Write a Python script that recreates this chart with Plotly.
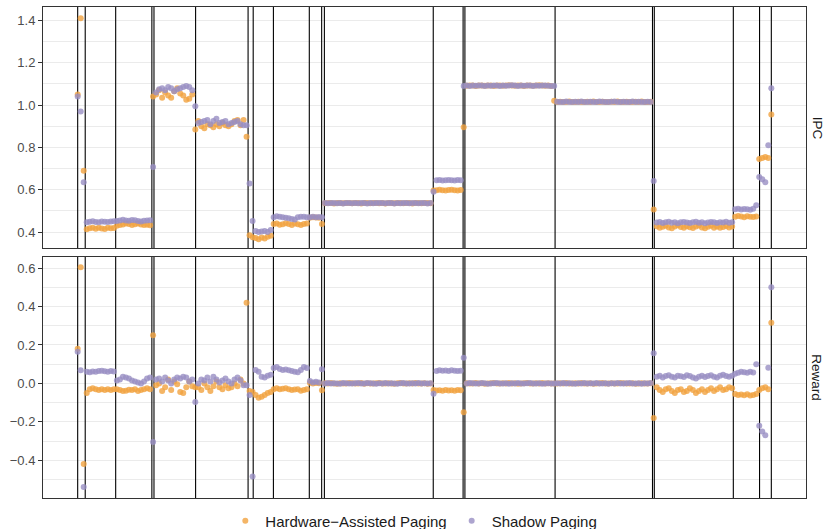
import plotly.graph_objects as go
from plotly.subplots import make_subplots

series_names = ["Hardware\u2212Assisted Paging", "Shadow Paging"]
series_colors = ["#F1A340", "#998EC3"]
facet_labels = ["IPC", "Reward"]

# phase boundaries (time step units)
phase_bounds = [0, 2.5, 12.6, 24.6, 25.3, 39.1, 56.5, 58.2, 64.9, 76.8, 80.9, 81.8,
                117.9, 127.8, 128.4, 158.3, 190.6, 191.2, 217.4, 226.1, 230]

ipc_hw = [
    1.05, 1.41, 0.69,
    0.413, 0.418, 0.42, 0.416, 0.42, 0.417, 0.415, 0.42, 0.418, 0.419,
    0.43, 0.433, 0.436, 0.44, 0.438, 0.434, 0.437, 0.441, 0.436, 0.433, 0.435, 0.432,
    1.04,
    1.05, 1.07, 1.035, 1.06, 1.045, 1.035, 1.065, 1.08, 1.055, 1.045, 1.025, 1.03, 1.05,
    0.885,
    0.925, 0.9, 0.89, 0.91, 0.905, 0.895, 0.91, 0.9, 0.915, 0.905, 0.9, 0.91, 0.925, 0.93, 0.905, 0.93, 0.85,
    0.385, 0.376,
    0.372, 0.366, 0.374, 0.37, 0.378, 0.383,
    0.438, 0.441, 0.435, 0.437, 0.442, 0.438, 0.434, 0.44, 0.437, 0.433, 0.438, 0.44,
    0.468, 0.47, 0.469, 0.468,
    0.438,
    0.536, 0.538, 0.537, 0.535, 0.538, 0.537, 0.536, 0.538, 0.537, 0.536,
    0.538, 0.537, 0.535, 0.537, 0.538, 0.536, 0.537, 0.538, 0.536, 0.537,
    0.535, 0.538, 0.537, 0.536, 0.538, 0.537, 0.536, 0.538, 0.537, 0.535,
    0.537, 0.538, 0.536, 0.537, 0.538, 0.536,
    0.597, 0.598, 0.6, 0.598, 0.597, 0.599, 0.6, 0.598, 0.597, 0.599,
    0.895,
    1.091, 1.093, 1.092, 1.090, 1.093, 1.092, 1.091, 1.093, 1.092, 1.090,
    1.092, 1.093, 1.091, 1.092, 1.094, 1.092, 1.091, 1.093, 1.092, 1.090,
    1.092, 1.093, 1.091, 1.092, 1.094, 1.093, 1.091, 1.092, 1.090,
    1.02,
    1.015, 1.016, 1.014, 1.015, 1.017, 1.015, 1.014, 1.016, 1.015, 1.014,
    1.016, 1.015, 1.017, 1.015, 1.014, 1.016, 1.015, 1.014, 1.016, 1.015,
    1.017, 1.015, 1.014, 1.016, 1.015, 1.014, 1.016, 1.015, 1.017, 1.015,
    1.014, 1.016,
    0.507,
    0.428, 0.42, 0.425, 0.43, 0.422, 0.418, 0.426, 0.432, 0.424, 0.42, 0.428, 0.423, 0.419,
    0.427, 0.431, 0.422, 0.418, 0.425, 0.43, 0.421, 0.426, 0.42, 0.424, 0.429, 0.422, 0.427,
    0.472, 0.476, 0.474, 0.47, 0.475, 0.473, 0.471, 0.474,
    0.745, 0.75, 0.755, 0.75, 0.955,
]

ipc_sp = [
    1.04, 0.97, 0.636,
    0.446, 0.449, 0.451, 0.448, 0.447, 0.45, 0.449, 0.448, 0.45, 0.451,
    0.452, 0.455, 0.458, 0.455, 0.453, 0.457, 0.456, 0.452, 0.45, 0.453, 0.455, 0.456,
    0.707,
    1.06, 1.075, 1.08, 1.07, 1.085, 1.08, 1.065, 1.075, 1.08, 1.085, 1.09, 1.085, 1.07,
    0.995,
    0.915, 0.92, 0.925, 0.93, 0.91, 0.925, 0.935, 0.915, 0.92, 0.925, 0.91, 0.915, 0.92, 0.925, 0.91, 0.905, 0.905,
    0.63, 0.452,
    0.405, 0.4, 0.403, 0.405, 0.4, 0.41,
    0.47, 0.475, 0.472, 0.47, 0.468, 0.465, 0.462, 0.46, 0.47, 0.472, 0.473, 0.47,
    0.47, 0.472, 0.47, 0.471,
    0.47,
    0.537, 0.536, 0.538, 0.537, 0.536, 0.538, 0.535, 0.537, 0.538, 0.536,
    0.537, 0.536, 0.538, 0.537, 0.535, 0.538, 0.536, 0.537, 0.538, 0.537,
    0.536, 0.537, 0.538, 0.535, 0.537, 0.536, 0.538, 0.537, 0.536, 0.538,
    0.537, 0.536, 0.538, 0.537, 0.535, 0.537,
    0.59, 0.645, 0.646, 0.644, 0.645, 0.646, 0.645, 0.644, 0.646, 0.645,
    1.09,
    1.092, 1.090, 1.093, 1.091, 1.092, 1.093, 1.090, 1.092, 1.091, 1.093,
    1.092, 1.090, 1.093, 1.091, 1.092, 1.094, 1.092, 1.090, 1.093, 1.091,
    1.092, 1.093, 1.090, 1.092, 1.091, 1.093, 1.092, 1.091, 1.090,
    1.09,
    1.016, 1.014, 1.015, 1.017, 1.015, 1.014, 1.016, 1.015, 1.017, 1.014,
    1.015, 1.016, 1.014, 1.015, 1.017, 1.016, 1.014, 1.015, 1.016, 1.017,
    1.015, 1.014, 1.016, 1.015, 1.014, 1.017, 1.015, 1.016, 1.014, 1.015,
    1.016, 1.015,
    0.641,
    0.445, 0.448, 0.443, 0.446, 0.449, 0.444, 0.447, 0.442, 0.446, 0.448, 0.445, 0.443, 0.447,
    0.449, 0.444, 0.446, 0.442, 0.445, 0.448, 0.446, 0.443, 0.447, 0.445, 0.449, 0.444, 0.446,
    0.508, 0.51, 0.507, 0.509, 0.508, 0.506, 0.51, 0.527,
    0.66, 0.65, 0.635, 0.81, 1.08,
]

reward_hw = [
    0.18, 0.605, -0.42,
    -0.05, -0.03, -0.025, -0.03, -0.035, -0.03, -0.035, -0.03, -0.035, -0.03,
    -0.03, -0.035, -0.04, -0.038, -0.033, -0.035, -0.03, -0.04, -0.035, -0.03, -0.025, -0.03,
    0.25,
    -0.01, 0.0, -0.04, -0.02, 0.02, -0.035, 0.01, -0.005, -0.045, -0.05, -0.02, 0.01, -0.015,
    -0.02,
    -0.02, -0.035, 0.0, -0.02, -0.04, -0.015, 0.01, -0.02, -0.03, -0.01, -0.025, -0.02, 0.0, -0.015, 0.02, 0.0, 0.42,
    -0.04, -0.045,
    -0.06, -0.075, -0.07, -0.06, -0.05, -0.045,
    -0.03, -0.025, -0.03, -0.028, -0.025, -0.03, -0.035, -0.032, -0.03, -0.038, -0.035, -0.03,
    0.003, 0.0, 0.002, 0.001,
    -0.036,
    0.001, -0.001, 0.002, 0.0, -0.002, 0.001, 0.0, -0.001, 0.002, 0.001,
    -0.001, 0.0, 0.002, -0.002, 0.001, 0.0, -0.001, 0.001, 0.002, 0.0,
    -0.001, 0.001, 0.0, -0.002, 0.001, 0.002, 0.0, -0.001, 0.001, 0.0,
    0.002, -0.001, 0.0, 0.001, -0.002, 0.0,
    -0.035, -0.037, -0.036, -0.038, -0.035, -0.037, -0.036, -0.038, -0.035, -0.036,
    -0.15,
    0.001, 0.0, -0.001, 0.002, 0.0, 0.001, -0.002, 0.0, 0.001, 0.002,
    -0.001, 0.0, 0.001, -0.001, 0.002, 0.0, 0.001, -0.002, 0.0, 0.001,
    0.002, -0.001, 0.0, 0.001, -0.001, 0.002, 0.0, 0.001, 0.0,
    0.0,
    0.0, 0.001, -0.001, 0.002, 0.0, -0.001, 0.001, 0.0, 0.002, -0.001,
    0.0, 0.001, -0.002, 0.0, 0.001, 0.002, -0.001, 0.0, 0.001, -0.001,
    0.0, 0.002, 0.001, -0.001, 0.0, 0.001, -0.002, 0.0, 0.001, 0.0,
    -0.001, 0.001,
    -0.18,
    -0.02, -0.035, -0.045, -0.03, -0.025, -0.04, -0.05, -0.035, -0.03, -0.045, -0.04, -0.025, -0.035,
    -0.05, -0.04, -0.03, -0.045, -0.035, -0.025, -0.04, -0.03, -0.02, -0.035, -0.03, -0.02, -0.025,
    -0.055, -0.06, -0.058, -0.062, -0.057, -0.063, -0.06, -0.055,
    -0.035, -0.025, -0.02, -0.03, 0.315,
]

reward_sp = [
    0.165, 0.068, -0.54,
    0.06, 0.058, 0.062, 0.06, 0.064, 0.066, 0.063, 0.06, 0.065, 0.062,
    0.015, 0.02, 0.035, 0.03, 0.025, 0.015, 0.01, 0.005, 0.0, 0.01, 0.025, 0.03,
    -0.305,
    0.02, 0.025, 0.01, 0.03, 0.015, 0.0, 0.02, 0.03, 0.025, 0.035, 0.03, 0.01, 0.02,
    -0.097,
    0.0, 0.02, 0.015, 0.03, 0.01, 0.035, 0.02, 0.005, 0.015, 0.025, 0.01, 0.0, 0.02, 0.03, 0.015, -0.01, -0.01,
    -0.06, -0.485,
    0.07, 0.06, 0.035, 0.03, 0.04, 0.045,
    0.08, 0.085, 0.075, 0.07, 0.072, 0.068, 0.065, 0.06, 0.058, 0.07, 0.085, 0.08,
    0.012, 0.005, 0.008, 0.004,
    0.073,
    0.0, 0.002, -0.001, 0.001, 0.0, -0.002, 0.002, 0.001, 0.0, -0.001,
    0.001, 0.002, 0.0, -0.001, 0.002, 0.001, 0.0, -0.002, 0.001, 0.0,
    0.002, -0.001, 0.001, 0.0, -0.002, 0.001, 0.002, 0.0, -0.001, 0.001,
    0.0, 0.002, -0.001, 0.001, 0.0, 0.001,
    -0.054, 0.065, 0.068, 0.066, 0.067, 0.065, 0.068, 0.066, 0.064, 0.066,
    0.134,
    0.0, 0.002, 0.001, -0.001, 0.0, 0.002, 0.001, -0.002, 0.0, 0.001,
    0.002, -0.001, 0.0, 0.001, -0.002, 0.001, 0.0, 0.002, -0.001, 0.0,
    0.001, 0.002, -0.001, 0.0, 0.001, -0.002, 0.0, 0.001, 0.0,
    0.0,
    0.001, 0.0, 0.002, -0.001, 0.001, 0.0, -0.002, 0.001, 0.0, 0.002,
    -0.001, 0.001, 0.0, 0.002, -0.001, 0.0, 0.001, -0.002, 0.001, 0.0,
    0.002, -0.001, 0.0, 0.001, 0.002, -0.001, 0.0, 0.001, -0.002, 0.001,
    0.0, 0.002,
    0.157,
    0.035, 0.04, 0.03, 0.038, 0.042, 0.035, 0.03, 0.04, 0.037, 0.033, 0.042, 0.038, 0.03,
    0.025, 0.035, 0.04, 0.033, 0.038, 0.042, 0.035, 0.03, 0.04, 0.045, 0.038, 0.035, 0.04,
    0.05, 0.055, 0.06, 0.058, 0.055, 0.06, 0.057, 0.099,
    -0.22, -0.25, -0.27, 0.082, 0.5,
]

lens = [len(ipc_hw), len(ipc_sp), len(reward_hw), len(reward_sp)]
assert len(set(lens)) == 1, f"length mismatch {lens}"
steps = list(range(len(ipc_hw)))

panels = [(ipc_hw, ipc_sp), (reward_hw, reward_sp)]
y_ranges = [[0.3225, 1.4633], [-0.5967, 0.6605]]

fig = make_subplots(rows=2, cols=1, shared_xaxes=True, vertical_spacing=0.0163)

FONT = "Liberation Sans, Arial, sans-serif"

for r, (hw, sp) in enumerate(panels, start=1):
    lo, hi = y_ranges[r - 1]
    vx, vy = [], []
    for b in phase_bounds:
        vx += [b, b, None]
        vy += [lo, hi, None]
    fig.add_trace(go.Scatter(x=vx, y=vy, mode="lines", line=dict(color="black", width=1.1),
                             showlegend=False, hoverinfo="skip"), row=r, col=1)
    for name, color, vals in zip(series_names, series_colors, (hw, sp)):
        fig.add_trace(go.Scatter(
            x=steps, y=vals, mode="markers", name=name,
            marker=dict(color=color, size=6, opacity=0.8, line=dict(width=0)),
            showlegend=(r == 1), legendgroup=name,
        ), row=r, col=1)

n = len(steps) - 1
xr = [-0.05 * n, n * 1.05]
for r in (1, 2):
    fig.update_xaxes(range=xr, showgrid=False, showticklabels=False, ticks="",
                     zeroline=False, showline=True, mirror=True, automargin=False,
                     linecolor="#333333", linewidth=1, row=r, col=1)

yaxis_common = dict(
    showgrid=True, gridcolor="#EBEBEB", gridwidth=1.1, zeroline=False,
    showline=True, mirror=True, linecolor="#333333", linewidth=1, automargin=False,
    ticks="outside", ticklen=4, tickwidth=1, tickcolor="#333333",
    tickfont=dict(family=FONT, size=13, color="#4D4D4D"),
    dtick=0.2, tickformat=".1f",
    minor=dict(showgrid=True, gridcolor="#EBEBEB", gridwidth=0.55, dtick=0.1, ticks=""),
)
fig.update_yaxes(range=y_ranges[0], tick0=0.4, row=1, col=1, **yaxis_common)
fig.update_yaxes(range=y_ranges[1], tick0=0.0, row=2, col=1, **yaxis_common)

for i, lab in enumerate(facet_labels):
    fig.add_annotation(text=lab, xref="paper", x=1, xanchor="center", xshift=11,
                       yref="y domain" if i == 0 else "y2 domain", y=0.5, yanchor="middle",
                       textangle=90, showarrow=False,
                       font=dict(family=FONT, size=13.5, color="#1A1A1A"))

fig.update_layout(
    width=827, height=529,
    margin=dict(l=43, r=21, t=7, b=31, autoexpand=False),
    plot_bgcolor="white", paper_bgcolor="white",
    font=dict(family=FONT),
    legend=dict(orientation="h", x=0.486, xanchor="center",
                yref="container", y=0.0151, yanchor="middle",
                font=dict(family=FONT, size=15, color="#1A1A1A"),
                itemsizing="trace", tracegroupgap=0, bgcolor="rgba(0,0,0,0)"),
)

fig.write_html("out.html", config={"displayModeBar": False},
               post_script="document.body.style.margin='0px';document.body.style.overflow='hidden';")
